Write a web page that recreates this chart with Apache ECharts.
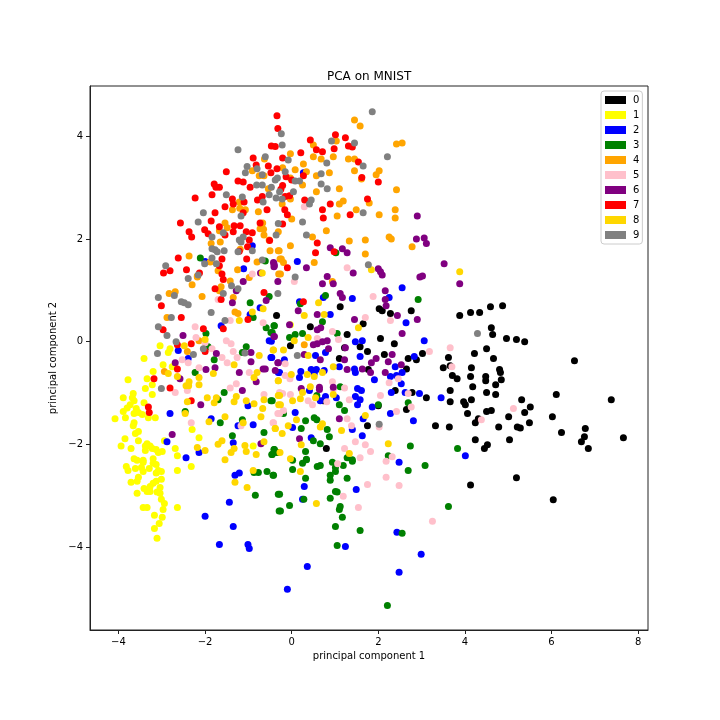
<!DOCTYPE html>
<html>
<head>
<meta charset="utf-8">
<style>html,body{margin:0;padding:0;background:#fff}#c{width:720px;height:720px}</style>
<script src="https://cdn.jsdelivr.net/npm/echarts@6/dist/echarts.min.js"></script>
</head>
<body>
<div id="c"></div>
<script>
const labels = ['0','1','2','3','4','5','6','7','8','9'];
const colors = ['black','yellow','blue','green','orange','pink','purple','red','gold','gray'];
const xTicks = [-4,-2,0,2,4,6,8];
const yTicks = [-4,-2,0,2,4];

const digit0 = [[-0.35,0.51],[1.12,0.68],[2.02,0.64],[2.09,0.60],[2.28,0.55],[2.76,0.60],[3.88,0.51],[1.65,0.35],[0.43,0.29],[1.28,0.14],[2.05,0.06],[2.37,-0.04],[-0.03,-0.08],[1.22,-0.12],[1.58,-0.10],[1.75,-0.19],[2.14,-0.25],[1.10,-0.33],[2.69,-0.33],[2.88,-0.35],[3.02,-0.23],[3.62,-0.31],[3.50,-0.51],[3.66,-0.47],[2.65,-0.53],[1.77,-0.54],[3.71,-0.66],[3.82,-0.72],[2.39,-0.95],[2.78,-0.99],[3.66,-0.95],[3.11,-1.09],[3.66,-1.17],[2.00,-1.25],[2.65,-1.32],[1.75,-1.64],[3.32,-1.64],[3.64,-1.66],[0.80,-2.08],[0.73,-1.15],
[4.13,0.57],[4.34,0.57],[4.59,0.68],[4.87,0.70],[4.61,0.27],[4.64,0.14],[4.96,0.06],[5.19,0.04],[5.38,0.00],[4.50,-0.14],[4.22,-0.23],[4.66,-0.33],[6.53,-0.37],[4.15,-0.51],[4.80,-0.54],[4.82,-0.60],[4.13,-0.68],[4.48,-0.68],[4.48,-0.76],[4.84,-0.74],[4.71,-0.84],[4.18,-0.88],[4.50,-0.99],[4.71,-1.03],[6.11,-1.03],[4.15,-1.13],[3.97,-1.17],[4.01,-1.23],[5.31,-1.13],[7.38,-1.13],[5.51,-1.27],[4.50,-1.36],[4.61,-1.34],[5.38,-1.38],[4.06,-1.40],[5.01,-1.46],[6.02,-1.46],[4.31,-1.50],[4.24,-1.58],[5.49,-1.58],[4.78,-1.66],[5.21,-1.66],[5.28,-1.68],[6.78,-1.69],[6.23,-1.77],[6.76,-1.85],[6.69,-1.95],[7.66,-1.87],[4.24,-1.91],[5.03,-1.91],[6.85,-2.08],[4.52,-2.01],[4.45,-2.08],[5.19,-2.65],[4.13,-2.79],[6.04,-3.08]];

const digit1 = [[-3.04,-0.08],[-2.81,-0.14],[-2.85,-0.21],[-3.41,-0.33],[-2.97,-0.45],[-2.76,-0.49],[-3.20,-0.58],[-3.78,-0.74],[-3.34,-0.72],[-3.22,-0.84],[-3.38,-0.91],[-3.22,-1.03],[-3.66,-1.01],[-3.68,-1.09],[-3.89,-1.09],[-3.64,-1.15],[-3.41,-1.19],[-3.73,-1.23],[-3.80,-1.29],[-3.59,-1.30],[-3.89,-1.36],[-3.64,-1.40],[-3.54,-1.38],[-3.45,-1.42],[-3.84,-1.48],[-4.08,-1.50],[-3.31,-1.48],[-3.15,-1.48],[-3.64,-1.58],[-3.66,-1.64],[-3.54,-1.75],[-3.61,-1.79],[-3.85,-1.89],[-3.54,-1.93],[-3.94,-2.03],[-3.71,-2.08],[-3.34,-1.99],[-3.38,-2.03],[-3.27,-2.03],[-3.38,-2.12],[-3.22,-2.08],[-3.13,-2.10],[-3.08,-2.16],[-2.99,-2.14],[-2.94,-1.93],[-2.30,-1.71],[-2.14,-1.87],[-2.69,-2.08],[-2.64,-2.22],[-0.89,-2.03],[-3.64,-2.28],[-3.20,-2.28],[-3.43,-2.31],
[-3.43,-2.35],[-3.57,-2.31],[-3.82,-2.43],[-3.78,-2.51],[-3.61,-2.47],[-3.47,-2.45],[-3.43,-2.53],[-3.29,-2.47],[-3.20,-2.37],[-3.13,-2.39],[-3.08,-2.51],[-3.01,-2.53],[-3.13,-2.56],[-2.64,-2.51],[-2.32,-2.43],[-3.54,-2.64],[-3.71,-2.74],[-3.57,-2.72],[-3.01,-2.68],[-3.13,-2.72],[-3.20,-2.76],[-3.27,-2.82],[-3.04,-2.84],[-3.41,-2.86],[-3.34,-2.92],[-3.27,-2.92],[-3.57,-2.95],[-3.11,-2.93],[-3.04,-2.95],[-3.01,-3.07],[-2.94,-3.15],[-3.43,-3.23],[-3.34,-3.23],[-2.97,-3.27],[-2.64,-3.23],[-3.17,-3.38],[-2.99,-3.42],[-3.06,-3.54],[-3.17,-3.64],[-3.11,-3.83],[-0.03,0.33]];

const digit2 = [[-0.91,1.87],[-1.11,1.42],[-2.00,1.56],[0.27,3.29],[0.13,1.56],
[-0.96,0.53],[-0.73,0.66],[-1.63,0.31],[-0.52,0.02],[-2.62,-0.17],[-2.39,-0.33],[-0.48,-0.31],[-0.31,-0.60],[-1.01,-1.25],[-2.81,-1.40],[-1.86,-1.50],[-1.24,-1.64],[-0.89,-1.62],[-2.88,-1.95],[-1.35,-1.97],[-2.14,-2.16],[-2.44,-2.26],
[-1.31,-2.60],[-1.21,-2.56],[-1.44,-3.13],[-2.00,-3.40],[-1.35,-3.60],[-1.67,-3.95],[-1.01,-3.95],[-0.98,-4.03],
[0.29,-2.82],[1.49,-2.88],[0.25,-3.07],[2.48,-2.35],[2.43,-3.71],[1.24,-3.99],[2.99,-4.14],[0.36,-4.38],[2.48,-4.49],[-0.10,-4.82],
[2.55,1.05],[2.25,0.86],[0.73,0.86],[0.18,0.78],[1.40,0.84],[0.89,0.53],[2.64,0.37],[1.47,0.00],[1.63,0.02],[3.06,0.02],[0.78,-0.21],[0.55,-0.27],[1.58,-0.29],[2.83,-0.29],[-0.17,-0.35],[-0.46,-0.31],[1.10,-0.49],[2.39,-0.49],[1.45,-0.53],[1.47,-0.60],[-0.28,-0.60],[0.21,-0.58],[0.18,-0.70],[0.45,-0.54],[0.57,-0.54],[0.52,-0.62],[0.75,-0.56],[1.91,-0.74],[2.28,-0.68],[2.55,-0.60],[2.42,-0.66],[2.53,-0.82],[1.52,-0.91],[1.61,-0.95],[1.47,-1.07],[1.58,-1.13],[1.52,-1.23],[1.03,-1.09],[0.78,-1.07],[0.66,-1.15],[0.41,-0.95],[2.30,-0.99],[2.62,-0.99],[2.95,-1.01],[3.45,-1.09],[1.86,-1.27],[2.28,-1.40],[2.81,-1.54],[0.08,-1.38],[1.65,-1.50],[0.02,-1.67],[1.40,-1.71],[1.63,-1.83],[0.45,-1.87],[-0.47,0.01],[4.01,-2.22]];

const digit3 = [[-2.11,1.63],[-0.61,1.57],[1.02,1.73],
[-0.52,0.88],[-0.96,0.76],[-0.89,0.47],[-0.59,0.27],[-0.41,0.31],[-0.48,0.18],[-1.98,0.16],[-1.93,-0.10],[-1.05,-0.10],[-1.14,-0.21],[-1.79,-0.35],[-2.23,-0.60],[-1.56,-0.99],[-1.70,-1.13],[-0.48,-1.15],[-2.46,-1.36],[-1.14,-1.52],[-1.65,-1.58],[-0.64,-1.77],[-1.37,-1.83],[-0.46,-2.20],[-0.35,-2.16],[-0.41,-2.10],
[-0.87,-2.55],[-0.77,-2.55],[-0.57,-2.53],[-0.43,-2.60],[-0.84,-2.99],[-0.31,-2.97],[-0.29,-3.30],
[0.02,-2.31],[0.25,-2.37],[0.34,-2.29],[0.59,-2.43],[0.66,-2.41],[0.02,-2.49],[-0.42,-2.60],[0.32,-2.66],[0.94,-2.35],[1.01,-2.45],[1.01,-2.53],[1.19,-2.41],[1.40,-2.33],[0.89,-2.60],[0.89,-2.70],[1.28,-2.66],[1.01,-2.92],[1.05,-2.93],[0.89,-3.05],[-0.28,-2.97],[0.28,-3.07],[-0.05,-3.19],[-0.26,-3.30],[1.12,-3.21],[1.10,-3.27],[1.17,-3.42],[1.01,-3.60],[1.58,-3.68],[1.05,-3.97],[2.55,-3.73],[2.21,-5.14],[3.62,-3.21],[3.08,-2.41],[2.69,-2.51],
[0.78,0.90],[0.20,0.74],[2.92,0.82],[-0.40,0.31],[-0.45,0.18],[0.71,0.39],[0.08,0.14],[0.25,0.16],[-0.05,0.08],[1.05,0.16],[1.12,-0.88],[0.58,-1.05],[1.10,-1.23],[1.22,-1.34],[2.69,-1.19],[2.00,-1.23],[-0.45,-1.15],[-0.19,-1.40],[0.32,-1.54],[0.52,-1.48],[0.58,-1.52],[0.22,-1.69],[0.82,-1.71],[0.87,-1.85],[0.50,-1.93],[0.66,-1.99],[2.74,-2.03],[3.83,-2.08],[-0.40,-2.10],[-0.45,-2.20],[-0.33,-2.16],[0.32,-2.14],[0.34,-2.30],[1.28,-2.26],[1.40,-2.30],[2.23,-2.22]];

const digit4 = [[-0.63,3.56],[-0.91,3.33],[-0.75,3.23],[-0.64,3.23],[-0.54,2.98],[-1.21,2.72],[-1.20,2.60],[-1.37,2.57],[-1.07,2.57],[-0.77,2.53],[-1.54,2.31],[-0.67,2.31],[-1.67,2.16],[-1.49,2.22],[-0.73,2.20],[-0.65,2.19],[-0.64,2.08],[-1.65,1.94],[-1.86,1.91],[-0.52,1.98],[-0.50,1.77],[-0.31,1.77],[-2.37,1.67],[-1.19,1.80],[-1.88,1.55],[-0.80,1.55],[-1.25,1.40],[-1.70,1.38],[-2.18,1.28],[-0.27,1.61],[-0.30,1.32],
[1.45,4.32],[1.58,4.20],[1.03,3.91],[0.50,3.83],[2.42,3.85],[2.55,3.87],[-0.03,3.66],[0.50,3.60],[0.68,3.56],[0.96,3.60],[1.31,3.56],[1.45,3.56],[-0.21,3.39],[0.08,3.35],[0.27,3.46],[0.34,3.31],[0.87,3.29],[0.57,3.23],[1.45,3.33],[2.02,3.33],[1.95,3.25],[1.61,3.17],[-0.03,3.19],[0.25,3.05],[1.10,2.98],[2.42,2.96],[0.57,2.92],[-0.03,2.78],[1.19,2.74],[1.10,2.68],[1.79,2.70],[-0.22,2.68],[1.49,2.57],[2.39,2.57],[1.05,2.45],[2.02,2.47],[2.39,2.41],[0.00,2.39],[0.80,2.16],[-0.31,2.14],[0.48,2.04],[1.33,1.96],[1.70,1.98],[2.25,2.04],[2.30,2.00],[-0.03,1.87],[2.78,1.85],[-0.29,1.77],[1.70,1.71],[-0.24,1.61],[-0.19,1.54],[0.52,1.54],[-0.26,1.32],
[-2.18,1.26],[-2.30,1.11],[-2.83,0.94],[-2.69,0.97],[-2.07,0.88],[-1.63,1.07],[-1.67,0.99],[-1.42,1.18],[-0.98,1.25],[-1.35,0.86],[-1.31,0.58],[-1.24,0.55],[-2.88,0.47],[-2.41,-0.19],[-2.94,-0.58],[-2.14,0.02],[0.94,1.17],[0.29,-0.06]];

const digit5 = [[-0.91,1.32],[0.29,2.63],[1.28,1.44],
[-1.70,0.82],[-1.42,0.41],[-0.66,0.37],[-2.23,0.29],[-2.21,0.08],[-2.00,-0.02],[-1.51,0.02],[-1.40,-0.04],[-1.84,-0.14],[-1.35,-0.19],[-2.53,-0.35],[-2.39,-0.41],[-1.61,-0.31],[-1.49,-0.41],[-1.26,-0.31],[-2.14,-0.51],[-0.98,-0.60],[-1.28,-0.82],[-1.42,-0.90],[-2.41,-0.95],[-2.69,-0.99],[-0.64,-1.03],[-0.32,-1.40],[-2.32,-1.58],[-1.17,-1.64],[-0.43,-1.58],
[2.18,-2.33],[2.18,-2.64],[2.48,-2.80],[1.75,-2.78],[1.19,-3.01],[1.54,-3.23],[3.25,-3.50],[1.06,-2.38],
[0.06,1.17],[1.88,0.88],[1.70,0.47],[2.28,0.41],[0.94,0.20],[0.59,0.06],[1.08,0.04],[3.66,-0.12],[3.18,-0.19],[-0.15,-0.43],[2.46,-0.72],[2.25,-0.80],[-0.15,-0.66],[-0.04,-0.72],[0.94,-0.78],[1.22,-0.90],[0.96,-0.93],[-0.28,-0.99],[-0.21,-1.01],[-0.03,-1.03],[2.05,-1.05],[2.69,-1.01],[1.33,-1.13],[0.38,-1.15],[0.48,-1.23],[0.81,-1.17],[2.42,-1.36],[2.76,-1.27],[-0.28,-1.40],[-0.19,-1.34],[1.28,-1.50],[1.38,-1.64],[-0.42,-1.58],[2.02,-1.66],[1.47,-1.95],[1.70,-2.01],[1.22,-2.08],[1.82,-2.14],[1.58,-2.26],[2.32,-2.24],[5.12,-1.30],[4.38,-1.52],[3.70,-0.49]];

const digit6 = [[-0.72,1.34],[-0.41,1.52],[-0.41,1.46],
[2.90,2.45],[2.88,2.00],[3.06,2.02],[3.11,1.91],[0.89,1.83],[1.17,1.81],[1.28,1.73],[3.52,1.52],[-0.42,1.54],[-0.40,1.48],[0.34,1.44],[0.82,1.27],[1.42,1.34],[2.00,1.42],[2.05,1.36],[2.09,1.30],[3.02,1.28],[2.96,1.26],
[-1.12,1.17],[-1.28,0.99],[-1.37,0.76],[-0.59,0.80],[-0.32,1.17],[-2.51,0.12],[-1.74,-0.23],[-0.94,-0.21],[-0.94,-0.39],[-2.69,-0.41],[-1.98,-0.54],[-1.77,-0.51],[-1.21,-0.60],[-2.58,-0.72],[-0.66,-0.53],[-0.61,-0.53],[-0.82,-0.78],[-1.14,-0.95],[-2.10,-1.23],[-2.76,-1.81],[-0.71,-1.99],[-0.41,0.10],[-0.38,-0.56],[-0.32,-0.41],
[0.71,1.13],[0.96,1.13],[1.12,0.94],[1.17,0.86],[2.16,0.99],[2.16,0.82],[2.18,0.70],[0.15,0.60],[0.59,0.53],[1.45,0.43],[2.44,0.51],[2.90,0.43],[0.67,0.27],[0.59,0.23],[2.55,0.16],[0.82,0.02],[0.71,0.00],[0.50,-0.06],[0.59,-0.04],[0.85,-0.14],[1.24,-0.12],[2.32,-0.25],[0.29,-0.25],[0.66,-0.35],[1.22,-0.35],[1.95,-0.33],[1.84,-0.41],[2.23,-0.39],[1.28,-0.54],[1.63,-0.53],[1.82,-0.60],[2.16,-0.60],[2.53,-0.45],[-0.05,0.33],[-0.40,0.10],[-0.31,-0.41],[0.22,-0.91],[0.64,-0.89],[0.64,-0.93],[0.96,-0.89],[1.10,-1.50],[0.18,-1.89],[3.88,1.13]];

const digit7 = [[-0.34,4.40],[-0.32,4.15],[-0.47,3.81],[-0.38,3.80],[-0.89,3.58],[-0.82,3.44],[-0.54,3.42],[-0.34,3.37],[-0.48,3.29],[-1.51,3.31],[-1.24,3.13],[-1.12,3.11],[-1.79,3.07],[-1.75,3.01],[-1.67,3.01],[-0.96,3.01],[-1.84,2.86],[-2.23,2.80],[-1.37,2.78],[-0.68,2.83],[-0.79,2.76],[-1.35,2.68],[-1.54,2.63],[-1.10,2.72],[-0.57,2.57],[-1.77,2.51],[-1.12,2.51],[-2.57,2.31],[-1.86,2.35],[-1.67,2.24],[-1.33,2.26],[-1.19,2.26],[-2.37,2.14],[-2.01,2.18],[-2.31,2.04],[-1.93,2.10],[-1.54,2.08],[-1.35,2.14],[-1.05,2.14],[-0.91,2.12],[-0.98,1.98],[-0.73,2.31],[-0.51,1.97],[-1.02,1.85],[-1.21,1.76],[-2.62,1.63],[-1.61,1.61],[-1.04,1.61],[-1.67,1.48],[-2.96,1.34],[-2.81,1.38],[-2.43,1.40],[-2.13,1.34],[-1.61,1.32],
[0.43,3.93],[1.01,4.03],[1.24,3.97],[0.57,3.74],[0.71,3.70],[0.98,3.76],[1.31,3.81],[1.40,3.79],[0.21,3.68],[-0.21,3.58],[1.54,3.50],[-0.13,3.21],[0.00,3.15],[0.27,3.23],[1.62,3.20],[2.00,3.11],[-0.21,3.04],[-0.25,2.97],[-0.05,2.84],[-0.15,2.83],[0.30,2.76],[1.75,2.78],[0.89,2.68],[-0.16,2.57],[-0.10,2.47],[0.71,2.57],[0.73,2.41],[1.35,2.47],[-0.21,2.29],[0.59,1.92],[0.55,1.73],[0.98,1.75],[-0.10,1.44],
[-1.58,1.21],[-1.77,1.03],[-1.63,0.82],[-3.01,0.70],[-2.55,0.47],[-0.64,0.96],[-2.97,0.23],[-2.04,0.25],[-1.01,0.43],[-1.58,0.25],[-2.64,-0.06],[-2.32,-0.04],[-2.00,-0.19],[-2.64,-0.53],[-3.18,-0.72],[-2.81,-0.90],[-2.32,-1.15],[-3.31,-1.27],[-3.29,-1.38],[0.27,0.78]];

const digit8 = [[-0.68,1.34],[1.84,1.40],[3.88,1.36],
[-0.91,0.58],[-1.21,0.41],[-0.66,0.64],[-2.48,-0.08],[-2.00,0.04],[-0.43,-0.16],[-0.75,-0.27],[-1.33,-0.45],[-2.85,-0.62],[-1.81,-0.62],[-0.80,-0.60],[-0.87,-0.70],[-2.64,-0.68],[-2.14,-0.70],[-0.31,-0.76],[-2.37,-0.78],[-2.44,-0.86],[-2.38,-0.86],[-2.14,-0.84],[-1.28,-1.07],[-1.95,-1.09],[-1.74,-1.09],[-1.79,-1.19],[-1.33,-1.17],[-2.41,-1.17],[-0.64,-1.13],[-1.05,-1.15],[-0.31,-1.05],[-0.87,-1.21],[-0.67,-1.30],[-0.30,-1.23],[-1.54,-1.46],[-0.71,-1.46],[-1.91,-1.56],[-1.12,-1.58],[-0.38,-1.69],[-1.61,-1.93],[-1.70,-2.00],[-1.08,-2.02],[-0.64,-1.95],[-2.18,-2.06],[-2.00,-2.12],[-1.33,-2.08],[-1.40,-2.16],[-1.05,-2.14],[-0.82,-2.20],[-1.54,-2.30],[-2.46,-1.40],
[-1.31,-2.74],[-1.03,-2.84],[-0.89,-2.51],[0.20,-2.53],[0.57,-3.15],
[0.62,0.76],[0.29,0.51],[0.75,0.53],[1.54,0.27],[0.38,0.08],[0.06,0.02],[-0.42,-0.16],[-0.19,-0.16],[0.38,-0.27],[0.96,-0.49],[-0.01,-0.64],[0.36,-0.64],[0.52,-0.68],[0.71,-0.60],[-0.31,-0.76],[0.43,-0.88],[0.25,-0.99],[0.20,-1.11],[-0.28,-1.05],[0.02,-1.15],[-0.26,-1.23],[0.55,-1.09],[0.96,-1.03],[0.11,-1.52],[-0.08,-1.64],[-0.38,-1.69],[-0.22,-1.79],[0.71,-1.60],[0.66,-1.66],[1.15,-1.73],[0.22,-2.01],[1.70,-1.44],[2.23,-1.99],[1.33,-2.18],[-0.27,-2.16],[-0.03,-2.28]];

const digit9 = [[-1.24,3.74],[-0.61,3.60],[-1.03,3.41],[-1.07,3.29],[-0.80,3.37],[-0.68,3.25],[-0.38,3.15],[-0.81,3.05],[-0.68,3.05],[-0.47,3.01],[-1.51,2.86],[-1.14,2.82],[-0.52,2.86],[-0.66,2.72],[-0.36,2.80],[-1.17,2.45],[-2.04,2.51],[-2.16,2.33],[-0.31,2.30],[-1.58,2.12],[-0.36,2.08],[-1.84,2.04],[-1.12,2.04],[-1.21,1.98],[-1.17,1.94],[-1.84,1.81],[-1.77,1.79],[-1.72,1.75],[-1.56,1.77],[-1.24,1.75],[-0.91,1.77],[-1.84,1.63],[-2.01,1.52],[-1.74,1.52],[-0.68,1.59],[-2.91,1.48],[-2.16,1.30],
[1.86,4.48],[-0.24,4.05],[-0.22,3.83],[0.92,3.91],[1.45,3.87],[2.21,3.60],[-0.08,3.54],[0.81,3.48],[1.65,3.42],[-0.15,3.31],[0.68,3.27],[-0.33,3.19],[0.08,3.13],[0.18,3.13],[0.68,3.07],[0.82,2.98],[0.04,2.92],[-0.28,2.92],[-0.22,2.78],[0.45,2.76],[0.41,2.68],[1.65,2.51],[0.25,2.33],[0.34,2.08],[1.77,1.50],[0.08,1.26],
[-2.39,1.23],[-3.08,0.86],[-2.71,0.90],[-2.55,0.78],[-2.48,0.76],[-2.39,0.72],[-1.86,0.57],[-1.58,0.94],[-1.39,1.09],[-1.24,1.03],[-0.32,0.94],[-2.78,0.47],[-3.08,0.29],[-2.88,0.12],[-2.67,0.00],[-3.10,-0.23],[-2.27,-0.25],[-2.04,-0.14],[-3.01,-0.91],[-1.54,0.41],[-1.08,-0.22],[0.13,-0.27],[2.02,-1.61],[4.29,0.16]];

const digits = [digit0,digit1,digit2,digit3,digit4,digit5,digit6,digit7,digit8,digit9];

const axisFont = {fontFamily:'DejaVu Sans',fontSize:10,color:'#000'};
const chart = echarts.init(document.getElementById('c'),null,{renderer:'canvas'});
chart.setOption({
  animation:false,
  backgroundColor:'#fff',
  title:{text:'PCA on MNIST',left:327,top:71,padding:0,textStyle:{fontFamily:'DejaVu Sans',fontSize:12,fontWeight:'normal',color:'#000'}},
  legend:{
    orient:'vertical',left:601,top:91,padding:[3,3,3,4],
    data:labels,icon:'rect',itemWidth:21,itemHeight:8,itemGap:3,
    borderColor:'#ccc',borderWidth:1,borderRadius:3,backgroundColor:'#fff',
    selectedMode:false,
    textStyle:{fontFamily:'DejaVu Sans',fontSize:10,color:'#000',padding:[0,0,0,2],lineHeight:12}
  },
  grid:{left:90,right:72,top:86,bottom:90,show:true,borderColor:'#222',borderWidth:1,backgroundColor:'#fff'},
  xAxis:{type:'value',min:-4.658,max:8.228,
    name:'principal component 1',nameLocation:'middle',nameGap:21,nameMoveOverlap:false,nameTextStyle:axisFont,
    splitLine:{show:false},
    axisLine:{onZero:false,show:true,lineStyle:{color:'#222',width:1}},
    axisTick:{show:true,length:4,inside:false,customValues:xTicks,lineStyle:{color:'#222',width:1}},
    axisLabel:Object.assign({margin:7,customValues:xTicks,showMinLabel:true,showMaxLabel:true,formatter:v=>String(v).replace('-','\u2212')},axisFont)},
  yAxis:{type:'value',min:-5.616,max:4.98,
    name:'principal component 2',nameLocation:'middle',nameGap:32,nameMoveOverlap:false,nameTextStyle:axisFont,
    splitLine:{show:false},
    axisLine:{onZero:false,show:true,lineStyle:{color:'#222',width:1}},
    axisTick:{show:true,length:4,inside:false,customValues:yTicks,lineStyle:{color:'#222',width:1}},
    axisLabel:Object.assign({margin:7,customValues:yTicks,formatter:v=>String(v).replace('-','\u2212')},axisFont)},
  series:digits.map((d,i)=>({
    name:labels[i],type:'scatter',data:d,symbol:'circle',symbolSize:7,
    itemStyle:{color:colors[i],opacity:1},
    emphasis:{disabled:true},silent:true
  }))
});
</script>
</body>
</html>
